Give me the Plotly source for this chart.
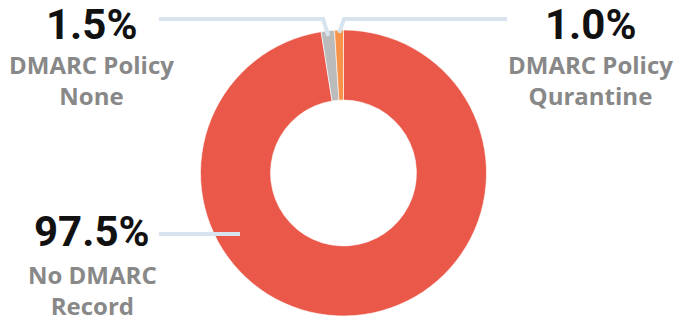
import math
import plotly.graph_objects as go

# Share of domains by DMARC status
categories = ["No DMARC Record", "DMARC Policy None", "DMARC Policy Qurantine"]
values = [97.5, 1.5, 1.0]
pct_labels = ["97.5%", "1.5%", "1.0%"]
sub_labels = ["No DMARC<br>Record", "DMARC Policy<br>None", "DMARC Policy<br>Qurantine"]
colors = ["#EA5849", "#BBBBBB", "#F7924A"]

W, H = 678, 322
CX, CY, R = 343.5, 173.0, 143.0
HOLE = 0.51
LINE_COLOR = "#D7E3EE"
VALUE_FONT = "Roboto"
SUB_FONT = "Open Sans"

def px(x):
    return x / W

def py(y):
    return 1 - y / H

fig = go.Figure(go.Pie(
    labels=categories,
    values=values,
    marker=dict(colors=colors, line=dict(color="white", width=0.6)),
    hole=HOLE,
    sort=False,
    direction="clockwise",
    rotation=0,
    textinfo="none",
    hoverinfo="label+percent",
    showlegend=False,
    domain=dict(x=[px(CX - R), px(CX + R)], y=[py(CY + R), py(CY - R)]),
))

# point on the ring at a clockwise angle (degrees from 12 o'clock) and radius fraction
def ring_point(angle_deg, frac):
    a = math.radians(angle_deg)
    return CX + frac * R * math.sin(a), CY - frac * R * math.cos(a)

total = sum(values)
cum = 0.0
mids = []
for v in values:
    mids.append((cum + v / 2) / total * 360)
    cum += v

# label block centre x, value text y, leader elbow/end positions
label_x = [92, 91, 590]
value_y = [231.5, 24.8, 24.8]
sub_y = [256, 46, 46]
line_y = [234, 19, 19]
line_start_x = [159, 159, 507]
anchor_angle = [239.5, mids[1], mids[2]]
anchor_frac = [0.84, 0.965, 0.98]
elbow_x = [None, 323, 344]

shapes = []
for i in range(3):
    ex, ey = ring_point(anchor_angle[i], anchor_frac[i])
    if elbow_x[i] is None:
        path = f"M {px(line_start_x[i])} {py(line_y[i])} L {px(ex)} {py(line_y[i])}"
    else:
        path = (f"M {px(line_start_x[i])} {py(line_y[i])} L {px(elbow_x[i])} {py(line_y[i])} "
                f"L {px(ex)} {py(ey)}")
    shapes.append(dict(type="path", xref="paper", yref="paper", path=path,
                       line=dict(color=LINE_COLOR, width=4)))

annotations = []
for i in range(3):
    annotations.append(dict(
        x=px(label_x[i]), y=py(value_y[i]), xref="paper", yref="paper",
        text=f"<b>{pct_labels[i]}</b>", showarrow=False, xanchor="center", yanchor="middle",
        font=dict(family=VALUE_FONT, size=42, color="#111111"),
    ))
    annotations.append(dict(
        x=px(label_x[i]), y=py(sub_y[i]), xref="paper", yref="paper",
        text=f"<b>{sub_labels[i]}</b>", showarrow=False, xanchor="center", yanchor="top",
        align="center",
        font=dict(family=SUB_FONT, size=24, color="#888888"),
    ))

fig.update_layout(
    width=W, height=H,
    margin=dict(l=0, r=0, t=0, b=0),
    paper_bgcolor="white",
    plot_bgcolor="white",
    shapes=shapes,
    annotations=annotations,
)

fig.write_html("out.html")
